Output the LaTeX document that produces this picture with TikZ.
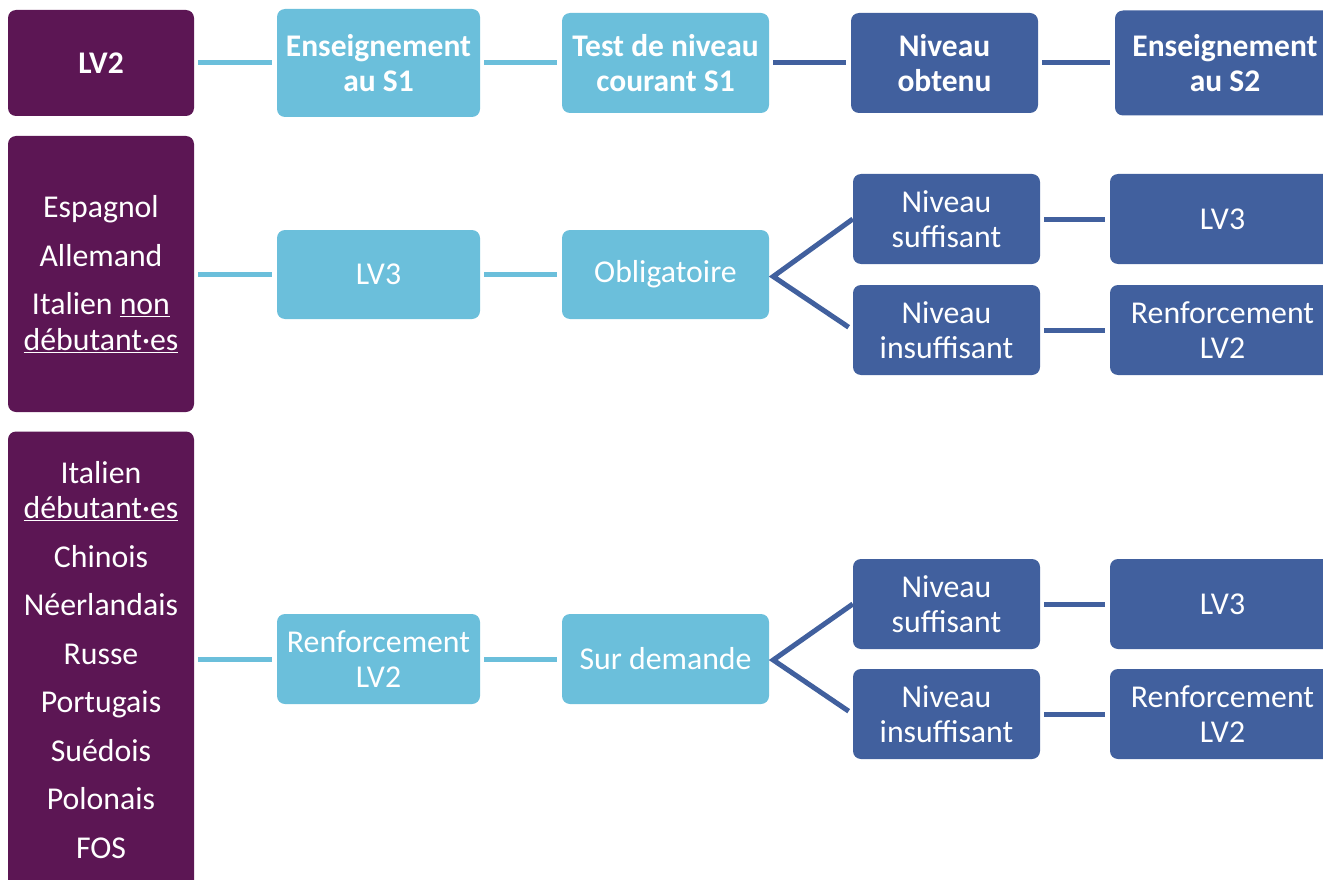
\documentclass[tikz,border=0pt]{standalone}
\usepackage{fontspec}
\setmainfont{Carlito}
\definecolor{purp}{HTML}{5C1654}
\definecolor{lblue}{HTML}{6BBFDB}
\definecolor{dblue}{HTML}{41609E}
\begin{document}
\begin{tikzpicture}[x=1pt,y=-1pt,
  box/.style={rounded corners=8pt, text=white, align=center, inner sep=0pt,
    font=\fontsize{31.8}{35.5}\selectfont},
  pbox/.style={box, fill=purp, minimum width=186pt},
  lbox/.style={box, fill=lblue},
  dbox/.style={box, fill=dblue},
  hdr/.style={font=\fontsize{31.5}{35.5}\selectfont\bfseries},
  lcon/.style={draw=lblue, line width=5pt, shorten >=5pt, shorten <=4pt},
  dcon/.style={draw=dblue, line width=5pt, shorten >=5pt, shorten <=4pt}]
\useasboundingbox (0,0) rectangle (1323,880);
\clip (0,0) rectangle (1323,880);
% header row
\node[pbox, hdr, minimum height=106pt] (lv2) at (101,63) {LV2};
\node[lbox, hdr, minimum width=203pt, minimum height=108pt] (ens1) at (378.5,63) {Enseignement\\au S1};
\node[lbox, hdr, minimum width=207pt, minimum height=100pt] (test) at (665.5,63) {Test de niveau\\courant S1};
\node[dbox, hdr, minimum width=187pt, minimum height=100pt] (obt) at (944.5,63) {Niveau\\obtenu};
\node[dbox, hdr, minimum width=220pt, minimum height=105pt] (ens2) at (1225,63) {Enseignement\\au S2};
\draw[lcon] (lv2) -- (ens1);
\draw[lcon] (ens1) -- (test);
\draw[dcon] (test) -- (obt);
\draw[dcon] (obt) -- (ens2);
% row 2
\node[pbox, minimum height=276pt] (p2) at (101,274) {Espagnol\\[13pt]Allemand\\[13pt]Italien \underline{non}\\\underline{débutant·es}};
\node[lbox, minimum width=203pt, minimum height=89pt] (lv3a) at (378.5,274.5) {LV3};
\node[lbox, minimum width=207pt, minimum height=89pt] (obl) at (665.5,274.5) {Obligatoire};
\node[dbox, minimum width=187pt, minimum height=90pt] (suf1) at (946.5,219) {Niveau\\suffisant};
\node[dbox, minimum width=187pt, minimum height=90pt] (ins1) at (946.5,330) {Niveau\\insuffisant};
\node[dbox, minimum width=225pt, minimum height=90pt] (r1a) at (1222.5,219) {LV3};
\node[dbox, minimum width=225pt, minimum height=90pt] (r1b) at (1222.5,330) {Renforcement\\LV2};
\coordinate (b1) at ([xshift=4pt,yshift=-2pt]obl.east);
\draw[lcon] (p2.east |- lv3a) -- (lv3a);
\draw[lcon] (lv3a) -- (obl);
\draw[dcon, shorten <=0pt, line join=miter] (suf1.west) -- (b1) -- (ins1.west);
\draw[dcon] (suf1) -- (r1a);
\draw[dcon] (ins1) -- (r1b);
% row 3
\node[pbox, minimum height=457pt] (p3) at (101,660) {Italien\\\underline{débutant·es}\\[13pt]Chinois\\[13pt]Néerlandais\\[13pt]Russe\\[13pt]Portugais\\[13pt]Suédois\\[13pt]Polonais\\[13pt]FOS};
\node[lbox, minimum width=203pt, minimum height=90pt] (ren) at (378.5,659) {Renforcement\\LV2};
\node[lbox, minimum width=207pt, minimum height=90pt] (sur) at (665.5,659) {Sur demande};
\node[dbox, minimum width=187pt, minimum height=90pt] (suf2) at (946.5,604) {Niveau\\suffisant};
\node[dbox, minimum width=187pt, minimum height=90pt] (ins2) at (946.5,714) {Niveau\\insuffisant};
\node[dbox, minimum width=225pt, minimum height=90pt] (r2a) at (1222.5,604) {LV3};
\node[dbox, minimum width=225pt, minimum height=90pt] (r2b) at (1222.5,714) {Renforcement\\LV2};
\coordinate (b2) at ([xshift=4pt,yshift=-1pt]sur.east);
\draw[lcon] (p3.east |- ren) -- (ren);
\draw[lcon] (ren) -- (sur);
\draw[dcon, shorten <=0pt, line join=miter] (suf2.west) -- (b2) -- (ins2.west);
\draw[dcon] (suf2) -- (r2a);
\draw[dcon] (ins2) -- (r2b);
\end{tikzpicture}
\end{document}
